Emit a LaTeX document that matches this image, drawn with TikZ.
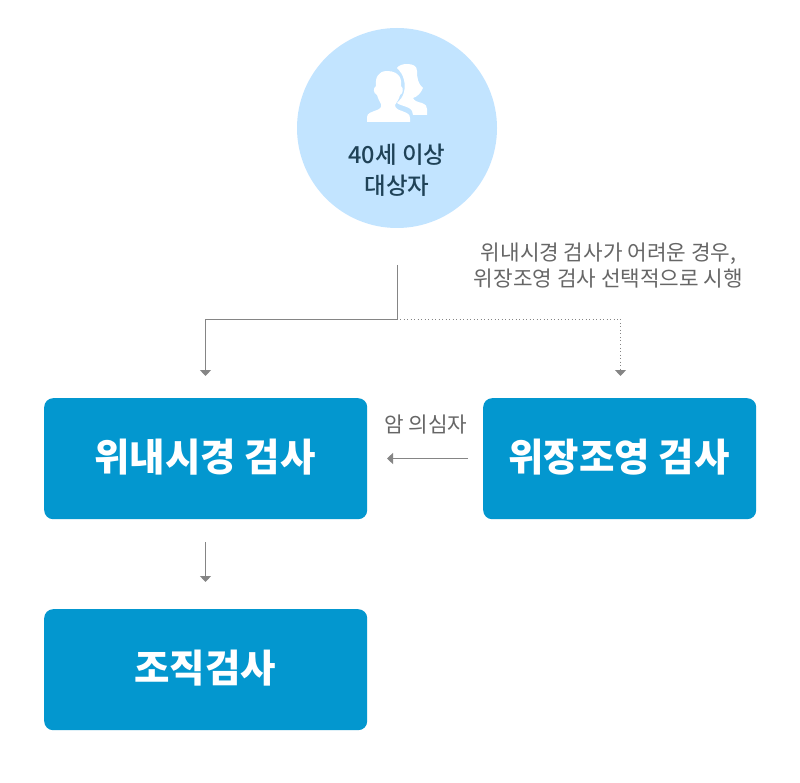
\documentclass[tikz,border=0pt]{standalone}
\usepackage{fontspec}
\setmainfont{Noto Sans CJK KR}
\newfontfamily\krmedium{Noto Sans CJK KR Medium}
\usetikzlibrary{arrows.meta}
\definecolor{boxblue}{HTML}{0397CF}
\definecolor{circblue}{HTML}{C2E4FF}
\definecolor{linegray}{HTML}{858585}
\definecolor{txtgray}{HTML}{666666}
\definecolor{navy}{HTML}{1F4257}
\tikzset{
  stepbox/.style={draw=none,fill=boxblue,rounded corners=9pt,text=white,font=\fontsize{38.5}{42}\selectfont\bfseries,inner sep=0pt,anchor=north west},
  boxlabel/.style={text=white,font=\fontsize{38.5}{42}\selectfont\bfseries,inner sep=0pt},
  flow/.style={draw=linegray,line width=1pt,-{Triangle[length=6pt,width=11pt,fill=linegray]}},
  dotflow/.style={draw=linegray,line width=1pt,dash pattern=on 1pt off 2.5pt,-{Triangle[length=6pt,width=11pt,fill=linegray]}},
  plain/.style={draw=linegray,line width=1pt},
  note/.style={text=txtgray,font=\fontsize{21.3}{26}\selectfont,align=center,inner sep=0pt},
}
\begin{document}
\begin{tikzpicture}[x=1pt,y=-1pt]
\useasboundingbox (0,0) rectangle (800,783);
\fill[white] (0,0) rectangle (800,783);
% circle
\node[circle,fill=circblue,minimum size=200pt,inner sep=0pt] (target) at (397,128) {};
% people icon: woman behind
\fill[white] (397,68) .. controls (399,65) and (403,64) .. (407,64)
  .. controls (413,64) and (417,66) .. (417,71)
  .. controls (417,78) and (418,84) .. (423,88)
  .. controls (421,93) and (417,97) .. (413,98)
  .. controls (414,101) and (418,102) .. (422,103)
  .. controls (426,105) and (427,106) .. (427,109) -- (427,115) -- (413,115)
  .. controls (413,112) and (412,110) .. (409,108)
  .. controls (405,106) and (399,105) .. (397,103)
  .. controls (400,100) and (403,97) .. (404,92)
  .. controls (405,88) and (405,84) .. (404,80)
  .. controls (403,75) and (400,71) .. (397,68) -- cycle;
% man in front
\fill[white] (387,71) .. controls (393,71) and (400,73) .. (401,81)
  .. controls (401,83) and (401,85) .. (401,86)
  .. controls (404,88) and (403,94) .. (400,95)
  .. controls (399,99) and (397,102) .. (395,105)
  .. controls (395,108) and (398,110) .. (402,111)
  .. controls (407,113) and (410,114) .. (410,118) -- (410,122) -- (367,122) -- (367,117)
  .. controls (367,113) and (372,112) .. (377,110)
  .. controls (380,109) and (382,107) .. (381,104)
  .. controls (379,101) and (378,98) .. (377,95)
  .. controls (373,93) and (373,88) .. (376,86)
  .. controls (375,78) and (378,71) .. (387,71) -- cycle;
\node[text=navy,font=\krmedium\fontsize{23.5}{31}\selectfont,align=center,inner sep=0pt] (targetlabel) at (397,170) {40세 이상\\대상자};
\node[note] (notelabel) at (608.5,265.5) {위내시경 검사가 어려운 경우,\\위장조영 검사 선택적으로 시행};
% boxes
\node[stepbox,minimum width=323pt,minimum height=121pt] (endo) at (44,398) {};
\node[boxlabel] (endolabel) at (205,457.5) {위내시경 검사};
\node[stepbox,minimum width=273pt,minimum height=121pt] (ugi) at (483,398) {};
\node[boxlabel] (ugilabel) at (619,457.5) {위장조영 검사};
\node[stepbox,minimum width=323pt,minimum height=121pt] (biopsy) at (44,609) {};
\node[boxlabel] (biopsylabel) at (205,668.5) {조직검사};
\node[note] (suspect) at (426,425) {암 의심자};
% connectors
\coordinate (start) at (397.5,265);
\coordinate (split) at (397.5,319.5);
\coordinate (dotstart) at (400,319.5);
\coordinate (endotop) at (205.5,376);
\coordinate (ugitop) at (620.5,376);
\coordinate (ugileft) at (468,458.5);
\coordinate (endoright) at (387,458.5);
\coordinate (endobot) at (205.5,542);
\coordinate (biopsytop) at (205.5,582);
\draw[plain] (start) -- (split);
\draw[flow] (split) -| (endotop);
\draw[dotflow] (dotstart) -| (ugitop);
\draw[flow] (ugileft) -- (endoright);
\draw[flow] (endobot) -- (biopsytop);
\end{tikzpicture}
\end{document}
